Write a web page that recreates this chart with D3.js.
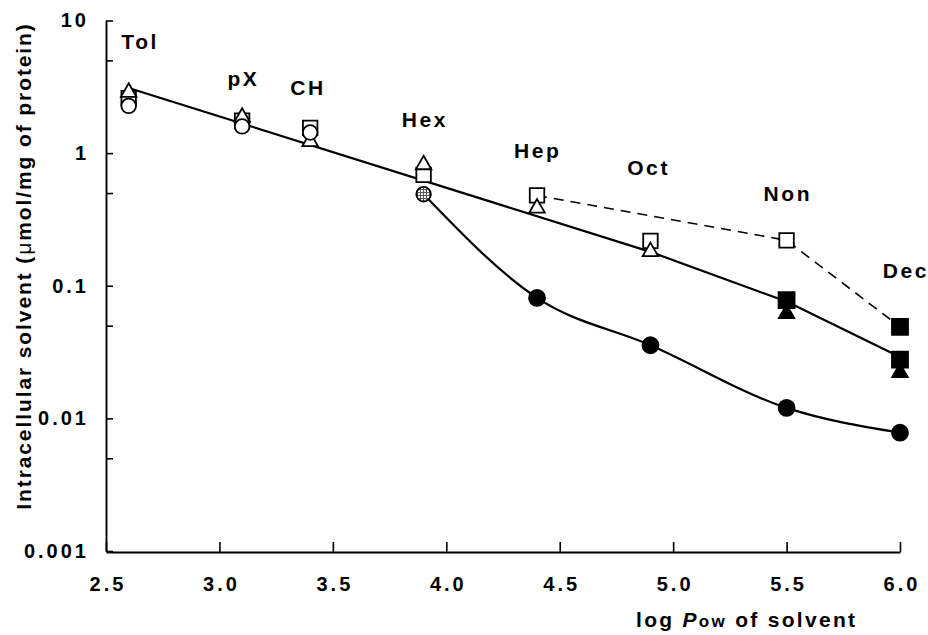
<!DOCTYPE html>
<html>
<head>
<meta charset="utf-8">
<script src="https://cdn.jsdelivr.net/npm/d3@7"></script>
<style>
  body { margin: 0; background: #fff; }
  svg { display: block; font-family: "Liberation Sans", Arial, sans-serif; }
</style>
</head>
<body>
<svg width="928" height="635"></svg>
<script>
// values
const solvents = ["Tol", "pX", "CH", "Hex", "Hep", "Oct", "Non", "Dec"];
const logPow = [2.6, 3.1, 3.4, 3.9, 4.4, 4.9, 5.5, 6.0];
const triangles = [2.99, 1.94, 1.27, 0.85, 0.40, 0.188, 0.064, 0.023];
const triangleState = ["open", "open", "open", "open", "open", "open", "filled", "filled"];
const squares = [2.6, 1.76, 1.55, 0.685, 0.48, 0.218, 0.078, 0.0277];
const squareState = ["open", "open", "open", "open", "open", "open", "filled", "filled"];
const circles = [2.27, 1.59, 1.43, 0.49, 0.081, 0.0356, 0.012, 0.0078];
const circleState = ["open", "open", "open", "hatched", "filled", "filled", "filled", "filled"];
// second square set joined by the dashed line
const dashedX = [4.4, 5.5, 6.0];
const dashedY = [0.48, 0.22, 0.049];
const dashedState = ["open", "open", "filled"];
// straight fitted line
const fitX = [2.6, 4.9, 5.5, 6.0];
const fitY = [3.1, 0.18, 0.076, 0.029];
// where the solvent names sit (data units)
const labelX = [2.645, 3.1, 3.385, 3.9, 4.397, 4.886, 5.5, 6.02];
const labelY = [6.15, 3.21, 2.74, 1.57, 0.918, 0.684, 0.436, 0.1145];

const xTicks = [2.5, 3.0, 3.5, 4.0, 4.5, 5.0, 5.5, 6.0];
const yTicks = [0.001, 0.01, 0.1, 1, 10];
const yMinor = [0.005, 0.05, 0.5, 5];

var svg = d3.select("svg");

var x = d3.scaleLinear().domain([2.5, 6.0]).range([106, 900]);
var y = d3.scaleLog().domain([0.001, 10]).range([551, 20.5]);

// hatch for the Hex circle
var defs = svg.append("defs");
var pat = defs.append("pattern")
  .attr("id", "hatch")
  .attr("patternUnits", "userSpaceOnUse")
  .attr("width", 3).attr("height", 3);
pat.append("rect").attr("width", 3).attr("height", 3).attr("fill", "#fff");
pat.append("path").attr("d", "M0,0.5H3M0.5,0V3").attr("stroke", "#555").attr("stroke-width", 1);

// axes
svg.append("g")
  .attr("transform", "translate(0,552)")
  .call(d3.axisBottom(x).tickValues(xTicks).tickFormat(d3.format(".1f"))
    .tickSizeInner(-10).tickSizeOuter(0).tickPadding(25))
  .selectAll(".tick text").attr("dx", "1.5px");

svg.append("g")
  .attr("transform", "translate(106,0)")
  .call(d3.axisLeft(y).tickValues(yTicks).tickFormat((d) => String(d))
    .tickSizeInner(-7).tickSizeOuter(0).tickPadding(17));

svg.append("g")
  .attr("transform", "translate(106,0)")
  .call(d3.axisLeft(y).tickValues(yMinor).tickFormat("").tickSizeInner(-7).tickSizeOuter(0))
  .select(".domain").remove();

svg.selectAll(".domain").attr("stroke", "#000").attr("stroke-width", 1.9);
svg.selectAll(".tick line").attr("stroke", "#000").attr("stroke-width", 1.6);
svg.selectAll(".tick text")
  .attr("fill", "#000")
  .attr("font-size", "20px")
  .attr("font-weight", "bold")
  .style("letter-spacing", "3px")
  .attr("font-family", "Liberation Sans, Arial, sans-serif");

// x title
var xt = svg.append("text")
  .attr("x", 636).attr("y", 627)
  .attr("font-size", "21px").attr("font-weight", "bold")
  .style("letter-spacing", "2.3px");
xt.append("tspan").text("log ");
xt.append("tspan").attr("font-style", "italic").text("P");
xt.append("tspan").attr("font-size", "17px").text("ow");
xt.append("tspan").text(" of solvent");

// y title
var yt = svg.append("text")
  .attr("transform", "translate(31,266) rotate(-90)")
  .attr("text-anchor", "middle")
  .attr("font-size", "21px").attr("font-weight", "bold")
  .style("letter-spacing", "1.9px");
yt.append("tspan").text("Intracellular solvent (");
yt.append("tspan").attr("font-weight", "normal").text("\u03bc");
yt.append("tspan").text("mol/mg of protein)");

// lines
var line = d3.line().x((d) => x(d[0])).y((d) => y(d[1]));

svg.append("path")
  .datum(d3.zip(fitX, fitY))
  .attr("d", line)
  .attr("fill", "none").attr("stroke", "#000").attr("stroke-width", 2.2);

svg.append("path")
  .datum(d3.zip(logPow, circles).slice(3))
  .attr("d", d3.line().x((d) => x(d[0])).y((d) => y(d[1])).curve(d3.curveMonotoneX))
  .attr("fill", "none").attr("stroke", "#000").attr("stroke-width", 2.2);

svg.append("path")
  .datum(d3.zip(dashedX, dashedY))
  .attr("d", line)
  .attr("fill", "none").attr("stroke", "#000").attr("stroke-width", 1.6)
  .attr("stroke-dasharray", "10,7");

function fillFor(s) {
  if (s === "filled") return "#000";
  if (s === "hatched") return "url(#hatch)";
  return "#fff";
}

function squarePath(s) { return `M${-s / 2},${-s / 2}H${s / 2}V${s / 2}H${-s / 2}Z`; }
function triPath(w, h) { return `M0,${-h / 2}L${w / 2},${h / 2}L${-w / 2},${h / 2}Z`; }

function drawMarkers(xs, ys, states, kind) {
  var g = svg.append("g");
  var data = xs.map((v, i) => ({ x: v, y: ys[i], s: states[i] }));
  if (kind === "circle") {
    g.selectAll("circle").data(data).enter().append("circle")
      .attr("cx", (d) => x(d.x)).attr("cy", (d) => y(d.y))
      .attr("r", (d) => (d.s === "filled" ? 8 : 7.3))
      .attr("fill", (d) => fillFor(d.s))
      .attr("stroke", "#000").attr("stroke-width", 1.8);
  } else {
    g.selectAll("path").data(data).enter().append("path")
      .attr("transform", (d) => `translate(${x(d.x)},${y(d.y)})`)
      .attr("d", (d) => (kind === "square" ? squarePath(d.s === "filled" ? 16 : 14.5) : triPath(15.5, 13.5)))
      .attr("fill", (d) => fillFor(d.s))
      .attr("stroke", "#000").attr("stroke-width", 1.8)
      .attr("stroke-linejoin", "miter");
  }
}

drawMarkers(logPow, squares, squareState, "square");
drawMarkers(dashedX.slice(1), dashedY.slice(1), dashedState.slice(1), "square");
drawMarkers(logPow, triangles, triangleState, "triangle");
drawMarkers(logPow, circles, circleState, "circle");

// solvent names
svg.append("g").selectAll("text")
  .data(solvents).enter().append("text")
  .attr("x", (d, i) => x(labelX[i]))
  .attr("y", (d, i) => y(labelY[i]))
  .attr("dx", "1.3px")
  .attr("text-anchor", "middle")
  .attr("font-size", "21px").attr("font-weight", "bold")
  .style("letter-spacing", "2.6px")
  .text((d) => d);
</script>
</body>
</html>
